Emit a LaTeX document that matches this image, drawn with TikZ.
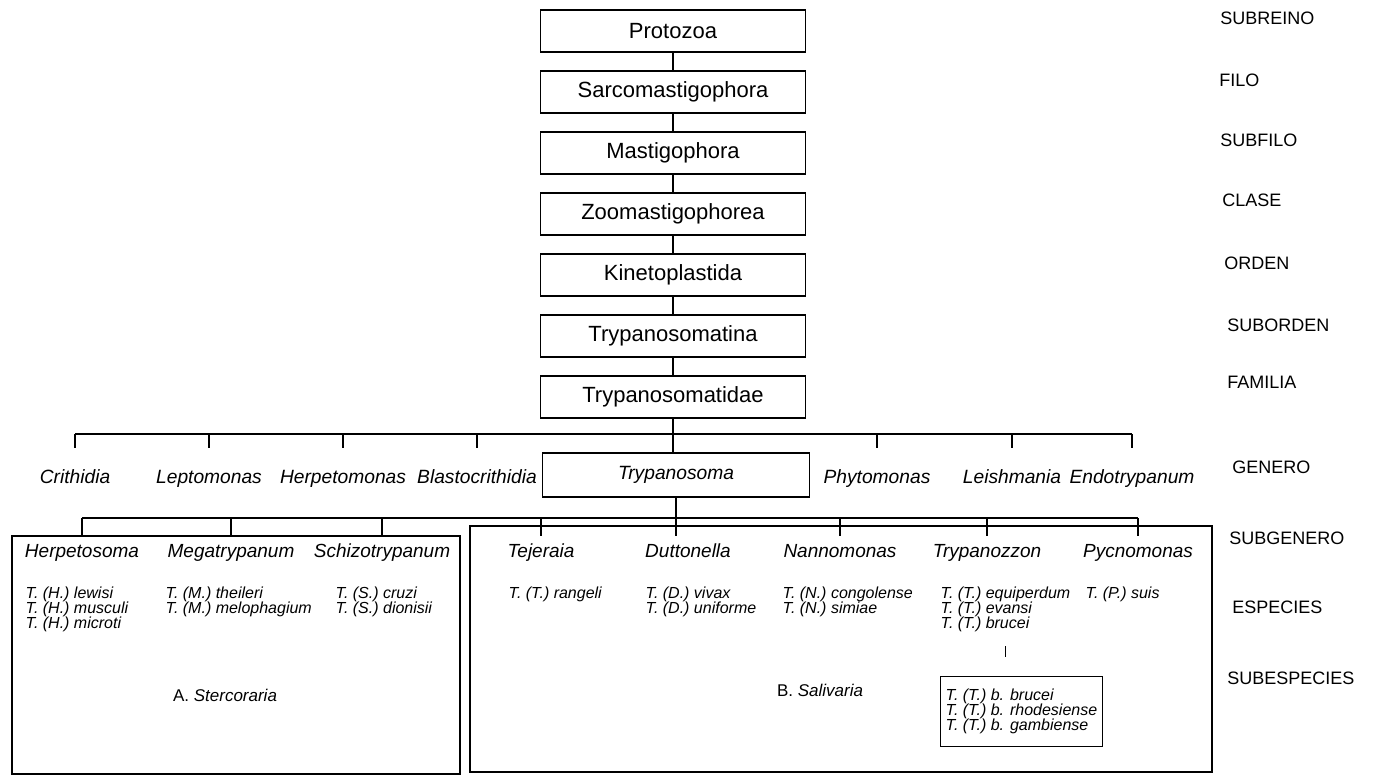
\documentclass[tikz,border=0pt]{standalone}
\usepackage{fontspec}
\setmainfont{Liberation Sans}

\begin{document}
\begin{tikzpicture}[
    x=0.5pt, y=-0.5pt,
    line width=0.7pt,
    taxbox/.style={draw, minimum width=132.5pt, minimum height=21pt,
                   inner sep=0pt, font=\fontsize{11}{13}\selectfont},
    rank/.style={anchor=west, font=\fontsize{9}{11}\selectfont},
    genus/.style={anchor=base, inner sep=0pt, text height=7pt,
                  font=\fontsize{9.6}{11}\selectfont\itshape},
    subgen/.style={anchor=base, inner sep=0pt, text height=7pt,
                   font=\fontsize{9.5}{11}\selectfont\itshape},
    spec/.style={anchor=north west, align=left, inner sep=0pt,
                 font=\fontsize{8}{7.5}\selectfont\itshape},
    group/.style={anchor=base, font=\fontsize{8.5}{10}\selectfont}
  ]
  \useasboundingbox (0,0) rectangle (1390,780);

  % Rank labels
  \node[rank] (rSubreino) at (1213, 18) {SUBREINO};
  \node[rank] (rFilo) at (1212, 80) {FILO};
  \node[rank] (rSubfilo) at (1213, 140) {SUBFILO};
  \node[rank] (rClase) at (1215, 200) {CLASE};
  \node[rank] (rOrden) at (1217, 263) {ORDEN};
  \node[rank] (rSuborden) at (1220, 325) {SUBORDEN};
  \node[rank] (rFamilia) at (1220, 382) {FAMILIA};
  \node[rank] (rGenero) at (1225, 467) {GENERO};
  \node[rank] (rSubgenero) at (1222, 538) {SUBGENERO};
  \node[rank] (rEspecies) at (1225, 607) {ESPECIES};
  \node[rank] (rSubesp) at (1220, 678) {SUBESPECIES};

  % Higher taxa
  \node[taxbox] (protozoa) at (673, 31) {Protozoa};
  \node[taxbox] (sarco) at (673, 92) {Sarcomastigophora};
  \node[taxbox] (mastigo) at (673, 153) {Mastigophora};
  \node[taxbox] (zoomas) at (673, 214) {Zoomastigophorea};
  \node[taxbox] (kineto) at (673, 275) {Kinetoplastida};
  \node[taxbox] (trypina) at (673, 336) {Trypanosomatina};
  \node[taxbox] (trypidae) at (673, 397) {Trypanosomatidae};

  \draw (protozoa) -- (sarco);
  \draw (sarco) -- (mastigo);
  \draw (mastigo) -- (zoomas);
  \draw (zoomas) -- (kineto);
  \draw (kineto) -- (trypina);
  \draw (trypina) -- (trypidae);

  % Genera
  \coordinate (gbar) at (673, 434);
  \node[taxbox, minimum width=133.5pt, minimum height=22pt,
        font=\fontsize{9.6}{11}\selectfont\itshape]
    (trypano) at (676, 475) {Trypanosoma};
  \node[genus] (crith) at (75, 483) {Crithidia};
  \node[genus] (lepto) at (209, 483) {Leptomonas};
  \node[genus] (herpeto) at (343, 483) {Herpetomonas};
  \node[genus] (blasto) at (477, 483) {Blastocrithidia};
  \node[genus] (phyto) at (877, 483) {Phytomonas};
  \node[genus] (leish) at (1012, 483) {Leishmania};
  \node[genus] (endo) at (1132, 483) {Endotrypanum};

  \draw (trypidae.south) -- (trypidae.south |- trypano.north);
  \draw (crith.north |- gbar) -- (endo.north |- gbar);
  \draw[shorten >=10pt] (crith.north |- gbar) -- (crith.north);
  \draw[shorten >=10pt] (lepto.north |- gbar) -- (lepto.north);
  \draw[shorten >=10pt] (herpeto.north |- gbar) -- (herpeto.north);
  \draw[shorten >=10pt] (blasto.north |- gbar) -- (blasto.north);
  \draw[shorten >=10pt] (phyto.north |- gbar) -- (phyto.north);
  \draw[shorten >=10pt] (leish.north |- gbar) -- (leish.north);
  \draw[shorten >=10pt] (endo.north |- gbar) -- (endo.north);

  % Group frames
  \draw (12, 536) rectangle (460, 774);
  \draw (470, 526) rectangle (1212, 772);

  % Subgenera
  \coordinate (sbar) at (676, 518);
  \node[subgen] (sgHerp) at (82, 557) {Herpetosoma};
  \node[subgen] (sgMega) at (231, 557) {Megatrypanum};
  \node[subgen] (sgSchizo) at (382, 557) {Schizotrypanum};
  \node[subgen] (sgTej) at (541, 557) {Tejeraia};
  \node[subgen] (sgDutt) at (688, 557) {Duttonella};
  \node[subgen] (sgNanno) at (840, 557) {Nannomonas};
  \node[subgen] (sgTrypz) at (987, 557) {Trypanozzon};
  \node[subgen] (sgPycno) at (1138, 557) {Pycnomonas};

  \draw[shorten >=3pt] (trypano.south) -- (trypano.south |- sgDutt.north);
  \draw (sgHerp.north |- sbar) -- (sgPycno.north |- sbar);
  \draw[shorten >=3pt] (sgHerp.north |- sbar) -- (sgHerp.north);
  \draw[shorten >=3pt] (sgMega.north |- sbar) -- (sgMega.north);
  \draw[shorten >=3pt] (sgSchizo.north |- sbar) -- (sgSchizo.north);
  \draw[shorten >=3pt] (sgTej.north |- sbar) -- (sgTej.north);
  \draw[shorten >=3pt] (sgNanno.north |- sbar) -- (sgNanno.north);
  \draw[shorten >=3pt] (sgTrypz.north |- sbar) -- (sgTrypz.north);
  \draw[shorten >=3pt] (sgPycno.north |- sbar) -- (sgPycno.north);

  % Species
  \node[spec] (spH) at (25, 586)
    {T. (H.) lewisi\\ T. (H.) musculi\\ T. (H.) microti};
  \node[spec] (spM) at (165, 586)
    {T. (M.) theileri\\ T. (M.) melophagium};
  \node[spec] (spS) at (335, 586)
    {T. (S.) cruzi\\ T. (S.) dionisii};
  \node[spec] (spTej) at (508, 586) {T. (T.) rangeli};
  \node[spec] (spD) at (645, 586)
    {T. (D.) vivax\\ T. (D.) uniforme};
  \node[spec] (spN) at (782, 586)
    {T. (N.) congolense\\ T. (N.) simiae};
  \node[spec] (spT) at (940, 586)
    {T. (T.) equiperdum\\ T. (T.) evansi\\ T. (T.) brucei};
  \node[spec] (spP) at (1085, 586) {T. (P.) suis};

  % Subspecies
  \node[spec, draw, inner xsep=2.5pt, minimum height=35pt]
    (subsp) at (940, 676)
    {T. (T.) b. brucei\\ T. (T.) b. rhodesiense\\ T. (T.) b. gambiense};
  \draw[shorten <=7pt, shorten >=9.5pt]
    (spT.south) -- (spT.south |- subsp.north);

  % Sections
  \node[group] (stercor) at (225, 701) {A. \textit{Stercoraria}};
  \node[group] (salivar) at (820, 696) {B. \textit{Salivaria}};
\end{tikzpicture}
\end{document}
